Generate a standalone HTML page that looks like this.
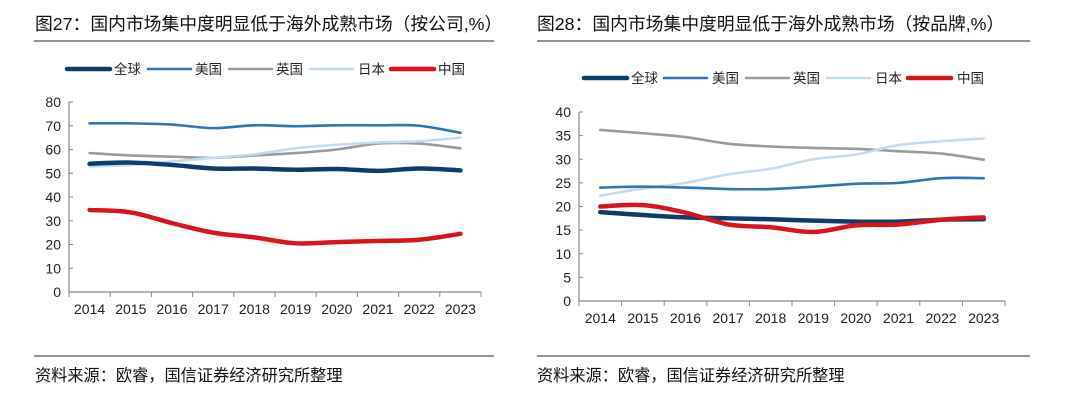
<!DOCTYPE html>
<html><head><meta charset="utf-8"><style>
body{margin:0;width:1080px;height:408px;background:#fff;font-family:"Liberation Sans","Noto Sans CJK SC",sans-serif;overflow:hidden}
svg{position:absolute;left:0;top:0}
</style></head><body>
<svg id="s" width="1080" height="408">
<text x="35" y="30" font-size="17.8" fill="#111">图27：国内市场集中度明显低于海外成熟市场（按公司,%）</text>
<text x="537" y="30" font-size="17.8" fill="#111">图28：国内市场集中度明显低于海外成熟市场（按品牌,%）</text>
<line x1="34" y1="41" x2="494" y2="41" stroke="#555" stroke-width="1.2"/>
<line x1="537" y1="41" x2="1030" y2="41" stroke="#555" stroke-width="1.2"/>
<line x1="34" y1="356" x2="494" y2="356" stroke="#555" stroke-width="1.2"/>
<line x1="537" y1="356" x2="1030" y2="356" stroke="#555" stroke-width="1.2"/>
<text x="35" y="381" font-size="16.2" fill="#111">资料来源：欧睿，国信证券经济研究所整理</text>
<text x="537" y="381" font-size="16.2" fill="#111">资料来源：欧睿，国信证券经济研究所整理</text>
</svg>
<script>
const years=["2014","2015","2016","2017","2018","2019","2020","2021","2022","2023"];
const seriesNames=["全球","美国","英国","日本","中国"];
const leftTicks=[0,10,20,30,40,50,60,70,80];
const rightTicks=[0,5,10,15,20,25,30,35,40];
const leftGlobal=[54,54.5,53.5,52,52,51.5,51.8,51,52,51.2];
const leftUS=[71,71,70.5,69,70.2,69.8,70.2,70.2,70,67];
const leftUK=[58.5,57.5,57,56.5,57.5,58.5,60,62.5,62.5,60.5];
const leftJP=[52.8,53.5,55,56.5,58,60.5,62,63,63.5,65];
const leftCN=[34.5,33.5,29,25,23,20.5,21,21.5,22,24.5];
const rightGlobal=[18.8,18.2,17.7,17.5,17.3,17,16.8,16.8,17.2,17.3];
const rightUS=[24,24.2,24,23.7,23.7,24.2,24.8,25,26,26];
const rightUK=[36.2,35.5,34.7,33.3,32.7,32.4,32.2,31.7,31.2,29.9];
const rightJP=[22.3,23.8,25,26.8,28,30,31,33,33.8,34.4];
const rightCN=[20,20.3,18.7,16.2,15.6,14.6,16,16.2,17.2,17.7];
const colors=["#0c3d6f","#2e75b6","#9a9a9a","#c3daf0","#d9141c"];
const widths=[4.5,2.6,2.6,2.6,4.5];
const svg=document.getElementById('s');
const NS="http://www.w3.org/2000/svg";
function mk(tag,attrs){const e=document.createElementNS(NS,tag);for(const k in attrs)e.setAttribute(k,attrs[k]);svg.appendChild(e);return e;}
function path(pts){let d="M"+pts[0][0]+","+pts[0][1];for(let i=0;i<pts.length-1;i++){const p0=pts[Math.max(i-1,0)],p1=pts[i],p2=pts[i+1],p3=pts[Math.min(i+2,pts.length-1)];const c1=[p1[0]+(p2[0]-p0[0])/6,p1[1]+(p2[1]-p0[1])/6],c2=[p2[0]-(p3[0]-p1[0])/6,p2[1]-(p3[1]-p1[1])/6];d+=` C${c1[0]},${c1[1]} ${c2[0]},${c2[1]} ${p2[0]},${p2[1]}`;}return d;}
function chart(cfg,prefix){
 const {x0,x1,y0,y1,max,ticks,data,legY,legLines,legTexts}=cfg;
 const band=(x1-x0)/years.length;
 const xS=i=>x0+band*(i+0.5);
 const yS=v=>y0-(v/max)*(y0-y1);
 const ax=mk('line',{x1:x0,y1:y1,x2:x0,y2:y0,stroke:"#888","stroke-width":1.2});
 
 const bx=mk('line',{x1:x0,y1:y0,x2:x1,y2:y0,stroke:"#888","stroke-width":1.2});
 
 ticks.forEach(t=>{mk('line',{x1:x0,x2:x0+4,y1:yS(t),y2:yS(t),stroke:"#888"});
  const tx=mk('text',{x:x0-8,y:yS(t)+5,"text-anchor":"end","font-size":14,fill:"#222"});tx.textContent=t;
  });
 for(let i=0;i<=years.length;i++)mk('line',{x1:x0+band*i,x2:x0+band*i,y1:y0,y2:y0+5,stroke:"#888"});
 years.forEach((y,i)=>{const tx=mk('text',{x:xS(i),y:y0+22,"text-anchor":"middle","font-size":14,fill:"#222"});tx.textContent=y;
  });
 [2,3,1,0,4].forEach(k=>{const p=mk('path',{d:path(data[k].map((v,i)=>[xS(i),yS(v)])),fill:"none",stroke:colors[k],"stroke-width":widths[k],"stroke-linecap":"round"});
  });
 seriesNames.forEach((n,k)=>{const l=mk('line',{x1:legLines[k],x2:legLines[k]+43,y1:legY,y2:legY,stroke:colors[k],"stroke-width":widths[k],"stroke-linecap":"round"});
  
  const t=mk('text',{x:legTexts[k],y:legY+5,"font-size":13.5,fill:"#222"});t.textContent=n;
  });
}
chart({x0:69,x1:481,y0:292,y1:102,max:80,ticks:leftTicks,data:[leftGlobal,leftUS,leftUK,leftJP,leftCN],legY:69,legLines:[67,148,229,310,391],legTexts:[114,195,276,358,438]},'left');
chart({x0:579,x1:1005,y0:301,y1:112,max:40,ticks:rightTicks,data:[rightGlobal,rightUS,rightUK,rightJP,rightCN],legY:78,legLines:[584,664,746,827,908],legTexts:[631,712,793,875,957]},'right');
</script>
</body></html>
